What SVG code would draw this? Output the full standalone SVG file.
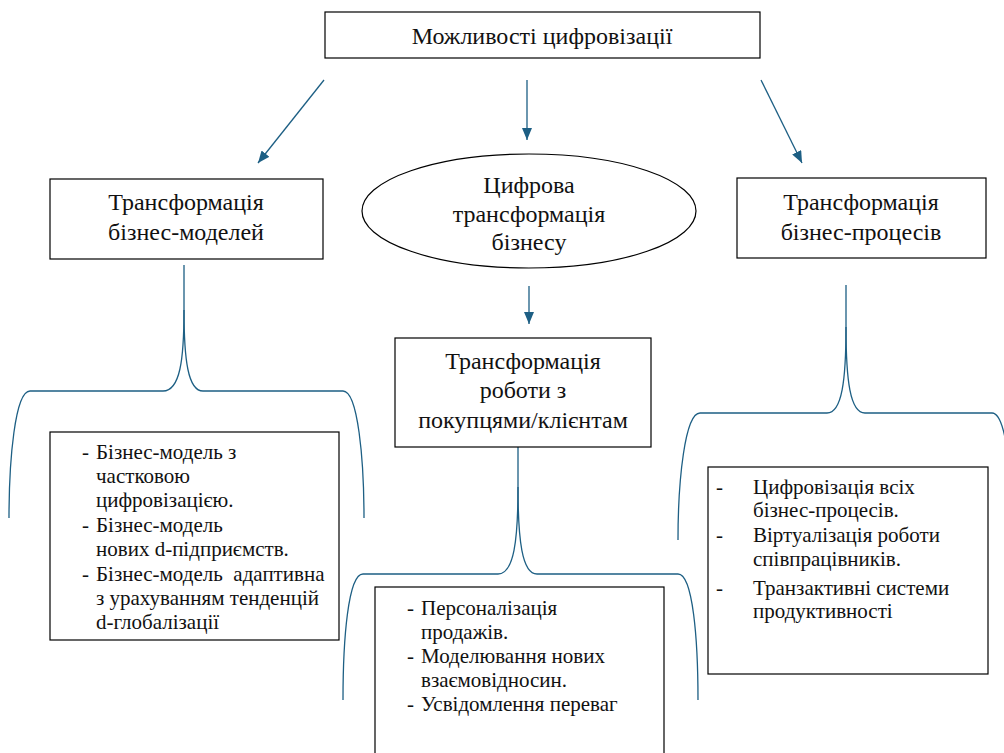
<svg xmlns="http://www.w3.org/2000/svg" width="1004" height="753" viewBox="0 0 1004 753">
<defs>
<marker id="ah" viewBox="0 0 12 10" refX="12" refY="5" markerWidth="12" markerHeight="10" markerUnits="userSpaceOnUse" orient="auto">
<path d="M0,0 L12,5 L0,10 Z" fill="#1d5f84"/>
</marker>
<style>
.box{fill:#fff;stroke:#000;stroke-width:1.2}
.t{font-family:'Liberation Serif',serif;font-size:24px;fill:#111}
.c{text-anchor:middle}
.l{font-family:'Liberation Serif',serif;font-size:21px;fill:#111}
.con{fill:none;stroke:#1d5f84;stroke-width:1.3}
</style>
</defs>
<rect width="1004" height="753" fill="#fff"/>
<g id="connectors">
<line class="con" x1="324" y1="80" x2="258" y2="163" marker-end="url(#ah)"/>
<line class="con" x1="527" y1="80" x2="527" y2="140" marker-end="url(#ah)"/>
<line class="con" x1="761" y1="80" x2="802" y2="163" marker-end="url(#ah)"/>
<line class="con" x1="529" y1="286" x2="529" y2="324" marker-end="url(#ah)"/>
<path class="con" d="M184,265 L184,310 C184,360 180,391 163,391 L30,391 C15,391 9,460 9,518"/>
<path class="con" d="M184,310 C184,360 188,391 203,391 L343,391 C358,391 364,460 364,518"/>
<path class="con" d="M518,447 L518,487 C518,540 514,574 498,574 L363,574 C348,574 343,640 343,700"/>
<path class="con" d="M518,487 C518,540 522,574 537,574 L678,574 C693,574 698,640 698,700"/>
<path class="con" d="M846,285 L846,327 C846,380 842,413 827,413 L700,413 C685,413 678,480 678,540"/>
<path class="con" d="M846,327 C846,380 850,413 865,413 L992,413 C1007,413 1012,480 1012,540"/>
</g>
<g id="top">
<rect class="box" x="325" y="12" width="435" height="46"/>
<text class="t c" x="542" y="44">Можливості цифровізації</text>
</g>
<g id="models">
<rect class="box" x="50" y="179" width="273" height="80"/>
<text class="t c" x="186" y="210">Трансформація</text>
<text class="t c" x="186" y="240">бізнес-моделей</text>
</g>
<g id="digital">
<ellipse cx="529" cy="211" rx="167" ry="57" fill="#fff" stroke="#000" stroke-width="1.2"/>
<text class="t c" x="529" y="193">Цифрова</text>
<text class="t c" x="529" y="222">трансформація</text>
<text class="t c" x="529" y="250">бізнесу</text>
</g>
<g id="processes">
<rect class="box" x="737" y="178" width="249" height="80"/>
<text class="t c" x="861" y="210">Трансформація</text>
<text class="t c" x="861" y="240">бізнес-процесів</text>
</g>
<g id="customers">
<rect class="box" x="395" y="338" width="256" height="109"/>
<text class="t c" x="523" y="369">Трансформація</text>
<text class="t c" x="523" y="398">роботи з</text>
<text class="t c" x="523" y="428">покупцями/клієнтам</text>
</g>
<g id="models-list">
<rect class="box" x="50" y="432" width="289" height="208"/>
<text class="l" x="82" y="459">-</text>
<text class="l" x="96" y="459">Бізнес-модель з</text>
<text class="l" x="96" y="483">частковою</text>
<text class="l" x="96" y="507">цифровізацією.</text>
<text class="l" x="82" y="532">-</text>
<text class="l" x="96" y="532">Бізнес-модель</text>
<text class="l" x="96" y="556">нових d-підприємств.</text>
<text class="l" x="82" y="581">-</text>
<text class="l" x="96" y="581" xml:space="preserve">Бізнес-модель  адаптивна</text>
<text class="l" x="96" y="605">з урахуванням тенденцій</text>
<text class="l" x="96" y="629">d-глобалізації</text>
</g>
<g id="customers-list">
<rect class="box" x="375" y="587" width="289" height="180"/>
<text class="l" x="407" y="615">-</text>
<text class="l" x="421" y="615">Персоналізація</text>
<text class="l" x="421" y="639">продажів.</text>
<text class="l" x="407" y="663">-</text>
<text class="l" x="421" y="663">Моделювання нових</text>
<text class="l" x="421" y="687">взаємовідносин.</text>
<text class="l" x="407" y="711">-</text>
<text class="l" x="421" y="711">Усвідомлення переваг</text>
</g>
<g id="processes-list">
<rect class="box" x="708" y="467" width="280" height="207"/>
<text class="l" x="716" y="494">-</text>
<text class="l" x="753" y="494">Цифровізація всіх</text>
<text class="l" x="753" y="517">бізнес-процесів.</text>
<text class="l" x="716" y="542">-</text>
<text class="l" x="753" y="542">Віртуалізація роботи</text>
<text class="l" x="753" y="566">співпрацівників.</text>
<text class="l" x="716" y="595">-</text>
<text class="l" x="753" y="595">Транзактивні системи</text>
<text class="l" x="753" y="618">продуктивності</text>
</g>
</svg>
